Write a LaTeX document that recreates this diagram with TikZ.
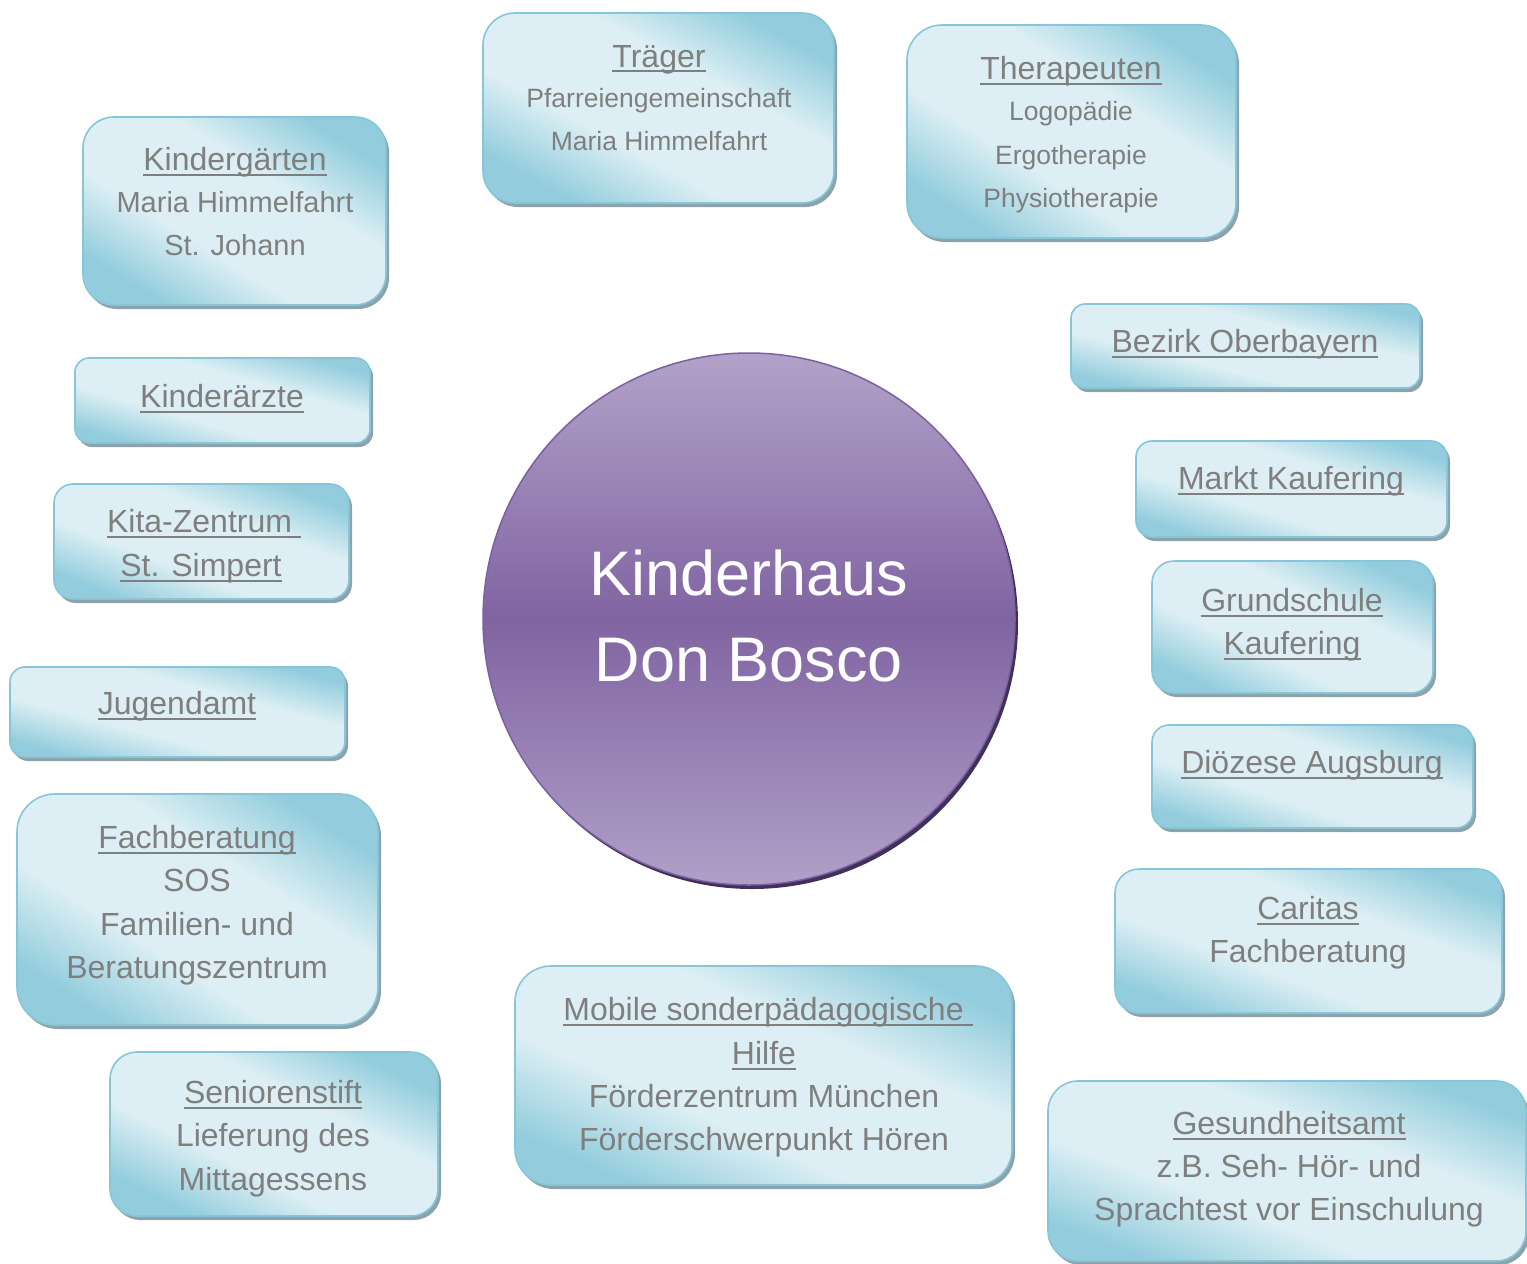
\documentclass[tikz,border=0pt]{standalone}
\usepackage{fontspec}
\setmainfont{Liberation Sans}
\usetikzlibrary{shadows}

\definecolor{boxdark}{HTML}{93CDDD}
\definecolor{boxlight}{HTML}{DDEFF4}
\definecolor{boxline}{HTML}{86C6D8}
\definecolor{boxshadow}{HTML}{8DA3AB}
\definecolor{txtgray}{HTML}{7F7F7F}
\definecolor{hubtop}{HTML}{B2A2C9}
\definecolor{hubmid}{HTML}{8064A2}
\definecolor{hubbot}{HTML}{B0A0C8}
\definecolor{hubline}{HTML}{7C60A0}
\definecolor{hubshadow}{HTML}{40305A}

% glossy band along the box diagonal
\pgfdeclareverticalshading{boxshade}{100bp}{%
  color(0bp)=(boxdark); color(25bp)=(boxdark); color(40bp)=(boxlight);
  color(60bp)=(boxlight); color(75bp)=(boxdark); color(100bp)=(boxdark)}

% underlined heading that cuts through descenders
\newcommand\ulx[1]{\begingroup\setbox0=\hbox{#1}\rlap{\copy0}\rule[-0.16em]{\wd0}{0.065em}\endgroup}

\tikzset{
  partner/.style={rectangle, draw=boxline, line width=1.6pt, shading=boxshade,
    shading angle=#1, inner sep=0pt,
    drop shadow={shadow xshift=3pt, shadow yshift=-4pt, fill=boxshadow, opacity=1}},
  ttl/.style={anchor=base, inner sep=0pt, text=txtgray, font=\fontsize{32}{38}\selectfont},
  bdy/.style={anchor=base, inner sep=0pt, text=txtgray, font=\fontsize{32}{38}\selectfont},
  bdys/.style={anchor=base, inner sep=0pt, text=txtgray, font=\fontsize{29}{35}\selectfont},
  bdyxs/.style={anchor=base, inner sep=0pt, text=txtgray, font=\fontsize{26.5}{32}\selectfont},
  hubtxt/.style={anchor=base, inner sep=0pt, text=white, font=\fontsize{63}{75}\selectfont},
}

\begin{document}
\begin{tikzpicture}[x=1pt, y=-1pt]
\useasboundingbox (0,0) rectangle (1527,1264);

% central circle
\node[circle, minimum size=532pt, inner sep=0pt, draw=hubline, line width=1.5pt,
  top color=hubtop, bottom color=hubbot, middle color=hubmid,
  drop shadow={shadow xshift=3pt, shadow yshift=-4pt, fill=hubshadow, opacity=1}]
  (hub) at (749,619) {};
\node[hubtxt] (hubA) at (749,595) {Kinderhaus};
\node[hubtxt] (hubB) at (749,681) {Don Bosco};

% partner boxes (shading angle follows each box diagonal)
\node[partner=-28.4, rounded corners=32pt, minimum width=351pt, minimum height=190pt] (trag)  at (658.5,108)   {};
\node[partner=-32.9, rounded corners=35pt, minimum width=329pt, minimum height=213pt] (ther)  at (1071.5,131.5) {};
\node[partner=-31.8, rounded corners=31pt, minimum width=303pt, minimum height=188pt] (kiga)  at (234.5,211)   {};
\node[partner=-13.5, rounded corners=14pt, minimum width=349pt, minimum height=84pt]  (bez)   at (1245.5,346)  {};
\node[partner=-16.1, rounded corners=14pt, minimum width=295pt, minimum height=85pt]  (karz)  at (222.5,400.5) {};
\node[partner=-17.2, rounded corners=16pt, minimum width=311pt, minimum height=96pt]  (markt) at (1291.5,489)  {};
\node[partner=-21.3, rounded corners=19pt, minimum width=295pt, minimum height=115pt] (kita)  at (201.5,541.5) {};
\node[partner=-25.2, rounded corners=22pt, minimum width=281pt, minimum height=132pt] (grund) at (1292.5,627)  {};
\node[partner=-15.0, rounded corners=15pt, minimum width=335pt, minimum height=90pt]  (jug)   at (177.5,712)   {};
\node[partner=-17.8, rounded corners=17pt, minimum width=321pt, minimum height=103pt] (dioz)  at (1312.5,776.5) {};
\node[partner=-32.6, rounded corners=38pt, minimum width=361pt, minimum height=231pt] (fach)  at (197.5,909.5) {};
\node[partner=-20.4, rounded corners=24pt, minimum width=387pt, minimum height=144pt] (car)   at (1308.5,941)  {};
\node[partner=-23.8, rounded corners=36pt, minimum width=497pt, minimum height=219pt] (mob)   at (763.5,1075.5) {};
\node[partner=-26.6, rounded corners=27pt, minimum width=328pt, minimum height=164pt] (sen)   at (274,1134)    {};
\node[partner=-20.6, rounded corners=30pt, minimum width=478pt, minimum height=180pt] (ges)   at (1287,1171)   {};

% box texts
\node[ttl]   (tragA) at (659,67)    {\ulx{Träger}};
\node[bdyxs] (tragB) at (659,107.5) {Pfarreiengemeinschaft};
\node[bdyxs] (tragC) at (659,150.5) {Maria Himmelfahrt};

\node[ttl]   (therA) at (1071,79.5)  {\ulx{Therapeuten}};
\node[bdyxs] (therB) at (1071,120.5) {Logopädie};
\node[bdyxs] (therC) at (1071,164.5) {Ergotherapie};
\node[bdyxs] (therD) at (1071,207.5) {Physiotherapie};

\node[ttl]  (kigaA) at (235,170.5) {\ulx{Kindergärten}};
\node[bdys] (kigaB) at (235,212.5) {Maria Himmelfahrt};
\node[bdys] (kigaC) at (235,255.5) {St. Johann};

\node[ttl] (karzA) at (222,407.5) {\ulx{Kinderärzte}};

\node[ttl] (kitaA) at (204,532.5) {\ulx{Kita-Zentrum\ }};
\node[ttl] (kitaB) at (201,576.5) {\ulx{St. Simpert}};

\node[ttl] (jugA) at (177,714.5) {\ulx{Jugendamt}};

\node[ttl] (fachA) at (197,848.5) {\ulx{Fachberatung}};
\node[bdy] (fachB) at (197,891.5) {SOS};
\node[bdy] (fachC) at (197,935.5) {Familien- und};
\node[bdy] (fachD) at (197,978.5) {Beratungszentrum};

\node[ttl] (senA) at (273,1103.5) {\ulx{Seniorenstift}};
\node[bdy] (senB) at (273,1146.5) {Lieferung des};
\node[bdy] (senC) at (273,1190.5) {Mittagessens};

\node[ttl] (mobA) at (768,1020.5) {\ulx{Mobile sonderpädagogische\ }};
\node[ttl] (mobB) at (764,1064.5) {\ulx{Hilfe}};
\node[bdy] (mobC) at (764,1107.5) {Förderzentrum München};
\node[bdy] (mobD) at (764,1150.5) {Förderschwerpunkt Hören};

\node[ttl] (bezA)   at (1245,352.5) {\ulx{Bezirk Oberbayern}};
\node[ttl] (marktA) at (1291,489.5) {\ulx{Markt Kaufering}};
\node[ttl] (grundA) at (1292,611.5) {\ulx{Grundschule}};
\node[ttl] (grundB) at (1292,654.5) {\ulx{Kaufering}};
\node[ttl] (diozA)  at (1312,773.5) {\ulx{Diözese Augsburg}};

\node[ttl] (carA) at (1308,919.5) {\ulx{Caritas}};
\node[bdy] (carB) at (1308,962.5) {Fachberatung};

\node[ttl] (gesA) at (1289,1134.5) {\ulx{Gesundheitsamt}};
\node[bdy] (gesB) at (1289,1177.5) {z.B. Seh- Hör- und};
\node[bdy] (gesC) at (1289,1220.5) {Sprachtest vor Einschulung};
\end{tikzpicture}
\end{document}
